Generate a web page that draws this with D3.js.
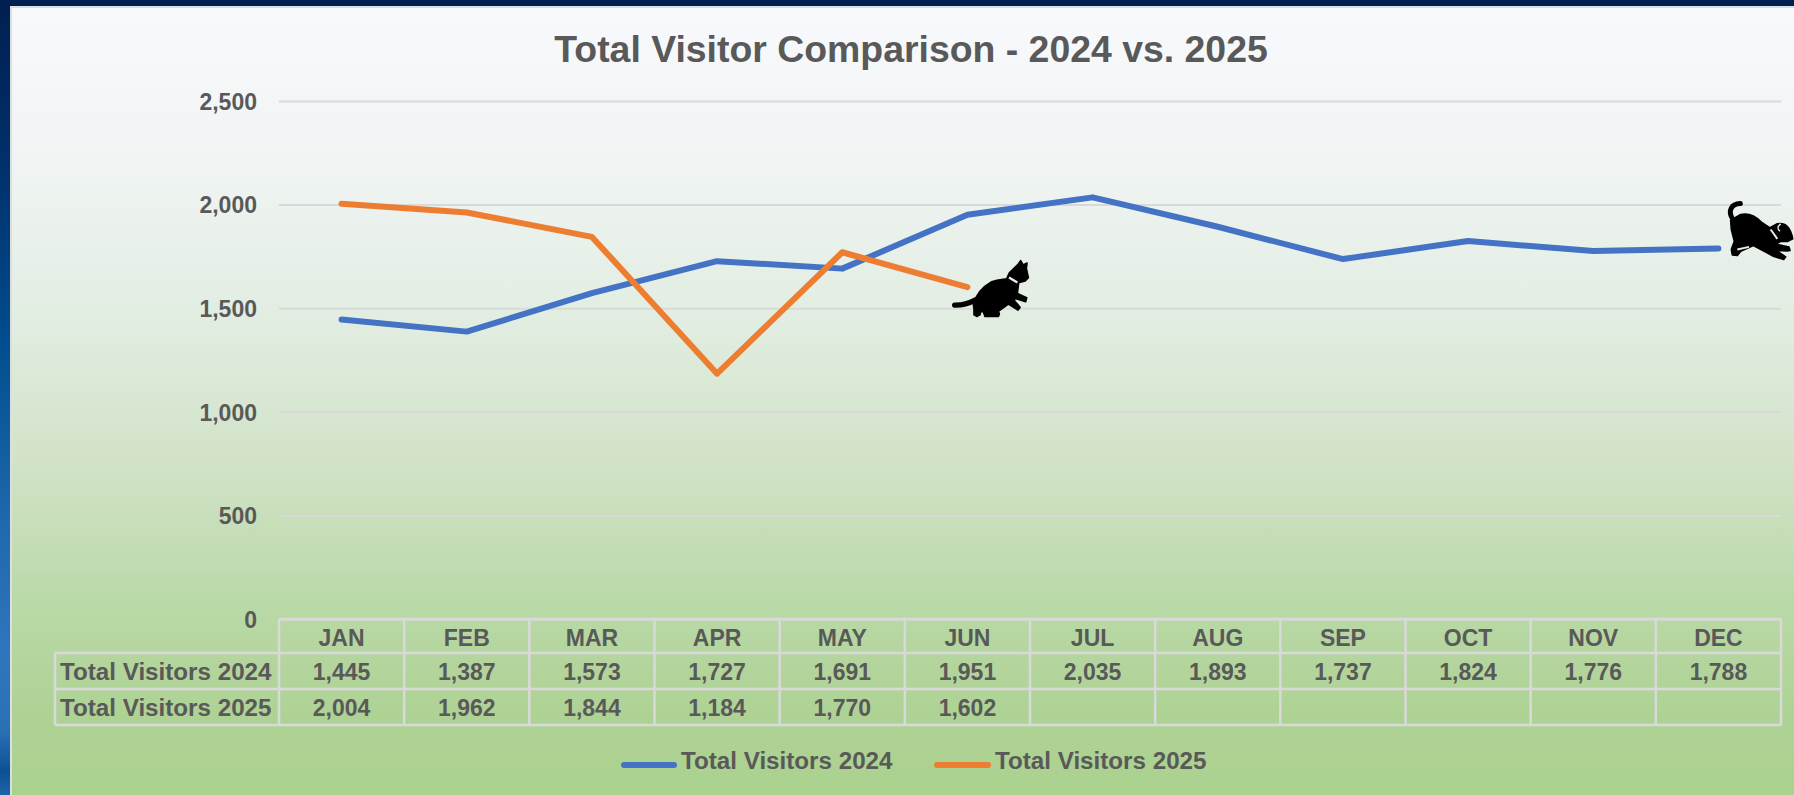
<!DOCTYPE html>
<meta charset="utf-8">
<style>
  html, body { margin: 0; padding: 0; background: #012050; overflow: hidden; }
  text { font-family: "Liberation Sans", Arial, sans-serif; font-weight: bold; fill: #595959; }
</style>
<script src="https://d3js.org/d3.v7.min.js"></script>

<div id="my_dataviz"></div>

<script>
  // values
  var months = ["JAN", "FEB", "MAR", "APR", "MAY", "JUN", "JUL", "AUG", "SEP", "OCT", "NOV", "DEC"];
  var visitors2024 = [1445, 1387, 1573, 1727, 1691, 1951, 2035, 1893, 1737, 1824, 1776, 1788];
  var visitors2025 = [2004, 1962, 1844, 1184, 1770, 1602];
  var yTicks = [0, 500, 1000, 1500, 2000, 2500];
  var seriesNames = ["Total Visitors 2024", "Total Visitors 2025"];
  var seriesColors = ["#4472C4", "#ED7D31"];
  var chartTitle = "Total Visitor Comparison - 2024 vs. 2025";

  var width = 1794, height = 795;
  var gridColor = "#D9D9D9";

  var svg = d3.select("#my_dataviz")
    .append("svg")
      .attr("width", width)
      .attr("height", height)
      .style("display", "block");

  // backgrounds
  var defs = svg.append("defs");
  var panelGrad = defs.append("linearGradient").attr("id", "panelGrad")
    .attr("x1", 0).attr("x2", 0).attr("y1", 0).attr("y2", 1);
  [[0, "#f8f9fd"], [0.2, "#f0f4f3"], [0.4, "#e1ede1"], [0.6, "#cfe1c4"], [0.75, "#bad9a8"], [0.9, "#aed294"], [1, "#abd18f"]]
    .forEach(function(s) { panelGrad.append("stop").attr("offset", s[0]).attr("stop-color", s[1]); });
  var sideGrad = defs.append("linearGradient").attr("id", "sideGrad")
    .attr("x1", 0).attr("x2", 0).attr("y1", 0).attr("y2", 1);
  [[0, "#011f50"], [0.2, "#01306a"], [0.42, "#004c8c"], [0.65, "#1e68ad"], [0.82, "#2f76bc"], [0.92, "#2a70b5"], [0.97, "#0d5096"], [1, "#1d64a8"]]
    .forEach(function(s) { sideGrad.append("stop").attr("offset", s[0]).attr("stop-color", s[1]); });

  svg.append("rect").attr("width", width).attr("height", height).attr("fill", "url(#sideGrad)");
  svg.append("rect").attr("width", width).attr("height", 6).attr("fill", "#012050");
  svg.append("rect").attr("x", 10).attr("y", 6).attr("width", width - 10).attr("height", height - 6).attr("fill", "#dcdfe0");
  svg.append("rect").attr("x", 12).attr("y", 8).attr("width", width - 12).attr("height", height - 8).attr("fill", "url(#panelGrad)");

  // scales
  var x = d3.scaleBand().domain(months).range([279, 1781]);
  var y = d3.scaleLinear().domain([0, 2500]).range([619, 101]);

  // title
  svg.append("text")
    .attr("x", 911)
    .attr("y", 62)
    .attr("text-anchor", "middle")
    .style("font-size", "37.4px")
    .text(chartTitle);

  // y axis with gridlines
  var yAxis = svg.append("g")
    .attr("transform", "translate(279,0)")
    .call(d3.axisLeft(y).tickValues(yTicks).tickFormat(d3.format(",")).tickSize(-1502).tickPadding(22));
  yAxis.select(".domain").remove();
  yAxis.selectAll("line").attr("stroke", gridColor).attr("stroke-width", 2);
  yAxis.selectAll("text").style("font-size", "23px").attr("dy", "0.36em");

  // data table under the plot
  var rowY = [619, 653, 689, 725];
  var labelLeft = 55;
  var table = svg.append("g").attr("stroke", gridColor).attr("stroke-width", 2.5).attr("fill", "none");
  rowY.forEach(function(ry, i) {
    table.append("line").attr("x1", i == 0 ? 279 : labelLeft).attr("x2", 1781).attr("y1", ry).attr("y2", ry);
  });
  table.append("line").attr("x1", labelLeft).attr("x2", labelLeft).attr("y1", rowY[1]).attr("y2", rowY[3]);
  months.forEach(function(m) {
    table.append("line").attr("x1", x(m)).attr("x2", x(m)).attr("y1", rowY[0]).attr("y2", rowY[3]);
  });
  table.append("line").attr("x1", 1781).attr("x2", 1781).attr("y1", rowY[0]).attr("y2", rowY[3]);

  var cellFormat = d3.format(",");
  var center = function(m) { return x(m) + x.bandwidth() / 2; };
  svg.append("g").selectAll("text").data(months).enter().append("text")
    .attr("x", center).attr("y", 646)
    .attr("text-anchor", "middle").style("font-size", "23px")
    .text(function(d) { return d; });
  [visitors2024, visitors2025].forEach(function(vals, r) {
    svg.append("text").attr("x", 60).attr("y", 680 + r * 36)
      .style("font-size", "24.2px").text(seriesNames[r]);
    svg.append("g").selectAll("text").data(vals).enter().append("text")
      .attr("x", function(d, i) { return center(months[i]); })
      .attr("y", 680 + r * 36)
      .attr("text-anchor", "middle").style("font-size", "23px")
      .text(function(d) { return cellFormat(d); });
  });

  // lines
  var line = d3.line()
    .x(function(d, i) { return center(months[i]); })
    .y(function(d) { return y(d); });
  [visitors2024, visitors2025].forEach(function(vals, r) {
    svg.append("path").datum(vals)
      .attr("d", line)
      .attr("fill", "none")
      .attr("stroke", seriesColors[r])
      .attr("stroke-width", 6)
      .attr("stroke-linecap", "round")
      .attr("stroke-linejoin", "round");
  });

  // cat at the end of 2025, dog at the end of 2024 (shapes traced in a 3x box)
  var cat = svg.append("g")
    .attr("transform", "translate(" + (center("JUN") - 37.4) + "," + (y(1602) - 47) + ") scale(0.3333)");
  cat.append("path")
    .attr("d", "M74,195 Q105,196 135,180")
    .attr("fill", "none").attr("stroke", "#000").attr("stroke-width", 16).attr("stroke-linecap", "round");
  cat.append("path")
    .attr("fill", "#000").attr("stroke", "#000").attr("stroke-width", 5).attr("stroke-linejoin", "round")
    .attr("d", "M130,195 C135,170 150,145 185,125 C205,118 220,118 230,116 L238,98 L265,72 L272,62 L280,75 L291,69 L289,85 L295,113 L285,123 L266,128 L262,160 L290,173 L287,185 L258,176 L250,178 L270,202 L264,210 L235,192 L205,214 L208,222 L205,229 L165,229 L160,215 L152,215 L150,224 L140,229 L132,224 L132,205 Z");
  cat.append("line")
    .attr("x1", 237).attr("y1", 112).attr("x2", 262).attr("y2", 127)
    .attr("stroke", "#e6efe6").attr("stroke-width", 7);

  var dog = svg.append("g")
    .attr("transform", "translate(" + (center("DEC") - 44.4) + "," + (y(1788) - 69) + ") scale(0.3333)");
  dog.append("path")
    .attr("d", "M174,115 C163,95 170,73 199,72")
    .attr("fill", "none").attr("stroke", "#000").attr("stroke-width", 15).attr("stroke-linecap", "round");
  dog.append("path")
    .attr("fill", "#000").attr("stroke", "#000").attr("stroke-width", 5).attr("stroke-linejoin", "round")
    .attr("d", "M170,122 L200,105 C225,100 245,110 262,128 L288,145 L310,133 C335,128 350,145 356,178 L340,186 L320,185 L306,194 L345,203 L348,213 L340,214 L305,212 L335,232 L329,240 L298,230 L265,212 L238,198 L200,215 L190,228 L175,226 L172,210 L181,185 L172,150 Z");
  dog.append("line")
    .attr("x1", 290).attr("y1", 150).attr("x2", 310).attr("y2", 178)
    .attr("stroke", "#e6efe6").attr("stroke-width", 6);
  dog.append("path")
    .attr("d", "M320,133 Q305,145 318,155")
    .attr("fill", "none").attr("stroke", "#e6efe6").attr("stroke-width", 4);
  dog.append("path")
    .attr("d", "M190,210 L225,202")
    .attr("fill", "none").attr("stroke", "#e6efe6").attr("stroke-width", 6);

  // legend
  var legendX = [[624, 674, 681], [937, 988, 995]];
  seriesNames.forEach(function(name, i) {
    svg.append("line")
      .attr("x1", legendX[i][0]).attr("x2", legendX[i][1])
      .attr("y1", 765).attr("y2", 765)
      .attr("stroke", seriesColors[i]).attr("stroke-width", 6).attr("stroke-linecap", "round");
    svg.append("text").attr("x", legendX[i][2]).attr("y", 769)
      .style("font-size", "24.2px").text(name);
  });
</script>
